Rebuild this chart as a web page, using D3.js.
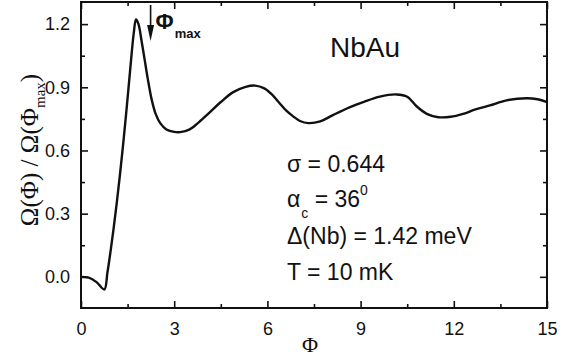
<!DOCTYPE html>
<html>
<head>
<meta charset="utf-8">
<script src="https://cdn.jsdelivr.net/npm/d3@7.9.0/dist/d3.min.js"></script>
<style>
  html, body { margin: 0; padding: 0; background: #fff; }
  svg { display: block; }
  text { fill: #111; }
</style>
</head>
<body>
<div id="chart"></div>
<script>
/* ---- data ---- */
const phi = [0, 0.25, 0.5, 0.75, 0.85, 0.95, 1.05, 1.15, 1.25, 1.35, 1.45, 1.55, 1.63, 1.7,
  1.77, 1.85, 1.95, 2.05, 2.15, 2.27, 2.4, 2.55, 2.75, 3.0, 3.19, 3.5, 3.8, 4.15, 4.5, 4.9,
  5.3, 5.6, 5.9, 6.15, 6.4, 6.6, 6.83, 7.05, 7.32, 7.7, 8.11, 8.66, 9.09, 9.62, 10.16, 10.5,
  10.8, 11.13, 11.5, 11.9, 12.3, 12.7, 13.16, 13.7, 14.34, 14.7, 15];
const omega = [0.0, -0.004, -0.025, -0.06, 0.02, 0.12, 0.23, 0.35, 0.48, 0.62, 0.77, 0.93,
  1.06, 1.16, 1.222, 1.2, 1.12, 1.03, 0.94, 0.845, 0.775, 0.73, 0.70, 0.688, 0.687, 0.70,
  0.735, 0.782, 0.83, 0.877, 0.902, 0.908, 0.895, 0.865, 0.823, 0.79, 0.762, 0.74, 0.73,
  0.738, 0.768, 0.806, 0.83, 0.856, 0.866, 0.855, 0.81, 0.774, 0.758, 0.76, 0.774, 0.795,
  0.814, 0.838, 0.848, 0.843, 0.83];
const xTicks = [0, 3, 6, 9, 12, 15];
const yTicks = [0.0, 0.3, 0.6, 0.9, 1.2];
const phiMax = 2.24;
const params = [
  { main: 'σ = 0.644' },
  { main: 'α', sub: 'c', rest: ' = 36', sup: '0' },
  { main: 'Δ(Nb) = 1.42 meV' },
  { main: 'T = 10 mK' }
];

/* ---- layout ---- */
const width = 575, height = 364;
const box = { left: 81, right: 547, top: 2, bottom: 308 };

const x = d3.scaleLinear().domain([0, 15]).range([box.left, box.right]);
const y = d3.scaleLinear().domain([-0.148, 1.305]).range([box.bottom, box.top]);

const svg = d3.select('#chart').append('svg')
  .attr('width', width).attr('height', height);

/* curve */
const pts = phi.map((p, i) => [p, omega[i]]);
svg.append('path')
  .datum(pts)
  .attr('fill', 'none')
  .attr('stroke', '#111')
  .attr('stroke-width', 2.4)
  .attr('stroke-linejoin', 'round')
  .attr('d', d3.line().x(d => x(d[0])).y(d => y(d[1])).curve(d3.curveCatmullRom.alpha(0.5)));

/* axes: ticks inward on all four sides */
const xMinor = d3.range(1.5, 15, 3);
const yMinor = d3.range(0.15, 1.3, 0.3);
const fmtY = d3.format('.1f');

function axisStyle(g) {
  g.select('.domain').remove();
  g.selectAll('line').attr('stroke', '#111').attr('stroke-width', 1.6);
  g.selectAll('text')
    .attr('font-family', '"Liberation Sans", Arial, sans-serif')
    .attr('font-size', 18).attr('fill', '#111');
}

// bottom
svg.append('g').attr('transform', `translate(0,${box.bottom})`)
  .call(d3.axisBottom(x).tickValues(xTicks).tickSize(-7).tickPadding(14).tickFormat(d3.format('d')))
  .call(axisStyle);
svg.append('g').attr('transform', `translate(0,${box.bottom})`)
  .call(d3.axisBottom(x).tickValues(xMinor).tickSize(-4).tickFormat(''))
  .call(axisStyle);
// top
svg.append('g').attr('transform', `translate(0,${box.top})`)
  .call(d3.axisTop(x).tickValues(xTicks).tickSize(-7).tickFormat(''))
  .call(axisStyle);
svg.append('g').attr('transform', `translate(0,${box.top})`)
  .call(d3.axisTop(x).tickValues(xMinor).tickSize(-4).tickFormat(''))
  .call(axisStyle);
// left
svg.append('g').attr('transform', `translate(${box.left},0)`)
  .call(d3.axisLeft(y).tickValues(yTicks).tickSize(-7).tickPadding(11).tickFormat(fmtY))
  .call(axisStyle);
svg.append('g').attr('transform', `translate(${box.left},0)`)
  .call(d3.axisLeft(y).tickValues(yMinor).tickSize(-4).tickFormat(''))
  .call(axisStyle);
// right
svg.append('g').attr('transform', `translate(${box.right},0)`)
  .call(d3.axisRight(y).tickValues(yTicks).tickSize(-7).tickFormat(''))
  .call(axisStyle);
svg.append('g').attr('transform', `translate(${box.right},0)`)
  .call(d3.axisRight(y).tickValues(yMinor).tickSize(-4).tickFormat(''))
  .call(axisStyle);

/* frame */
svg.append('rect')
  .attr('x', box.left).attr('y', box.top)
  .attr('width', box.right - box.left).attr('height', box.bottom - box.top)
  .attr('fill', 'none').attr('stroke', '#111').attr('stroke-width', 2);

/* axis titles */
const serif = '"Liberation Serif", "Times New Roman", serif';
svg.append('text')
  .attr('x', 310).attr('y', 352)
  .attr('text-anchor', 'middle')
  .attr('font-family', serif)
  .attr('font-size', 22)
  .text('Φ');

const yl = svg.append('text')
  .attr('transform', 'translate(38,150) rotate(-90)')
  .attr('text-anchor', 'middle')
  .attr('font-family', serif)
  .attr('font-size', 25);
yl.append('tspan').text('Ω(Φ) / Ω(Φ');
yl.append('tspan').attr('font-size', 15).attr('dy', 7).text('max');
yl.append('tspan').attr('dy', -7).text(')');

/* Φmax marker */
const ax = x(phiMax);
svg.append('line')
  .attr('x1', ax).attr('x2', ax).attr('y1', 5).attr('y2', 30)
  .attr('stroke', '#111').attr('stroke-width', 1.6);
svg.append('path')
  .attr('d', `M${ax - 3.5},25 L${ax + 3.5},25 L${ax},41 Z`)
  .attr('fill', '#111');
const pm = svg.append('text')
  .attr('x', ax + 5).attr('y', 29)
  .attr('font-family', '"Liberation Sans", Arial, sans-serif')
  .attr('font-weight', 'bold')
  .attr('font-size', 22);
pm.append('tspan').text('Φ');
pm.append('tspan').attr('font-size', 13).attr('dy', 9).attr('dx', 1).text('max');

/* sample label */
svg.append('text')
  .attr('x', 330).attr('y', 57)
  .attr('font-family', '"Liberation Sans", Arial, sans-serif')
  .attr('font-size', 28)
  .text('NbAu');

/* parameter block */
const baselines = [172, 207, 244, 280];
params.forEach((p, i) => {
  const t = svg.append('text')
    .attr('x', 287).attr('y', baselines[i])
    .attr('font-family', '"Liberation Sans", Arial, sans-serif')
    .attr('font-size', 23);
  t.append('tspan').text(p.main);
  if (p.sub) {
    t.append('tspan').attr('font-size', 14).attr('dy', 11).attr('dx', 1).text(p.sub);
    t.append('tspan').attr('dy', -11).text(p.rest);
    t.append('tspan').attr('font-size', 14).attr('dy', -12).text(p.sup);
  }
});
</script>
</body>
</html>
